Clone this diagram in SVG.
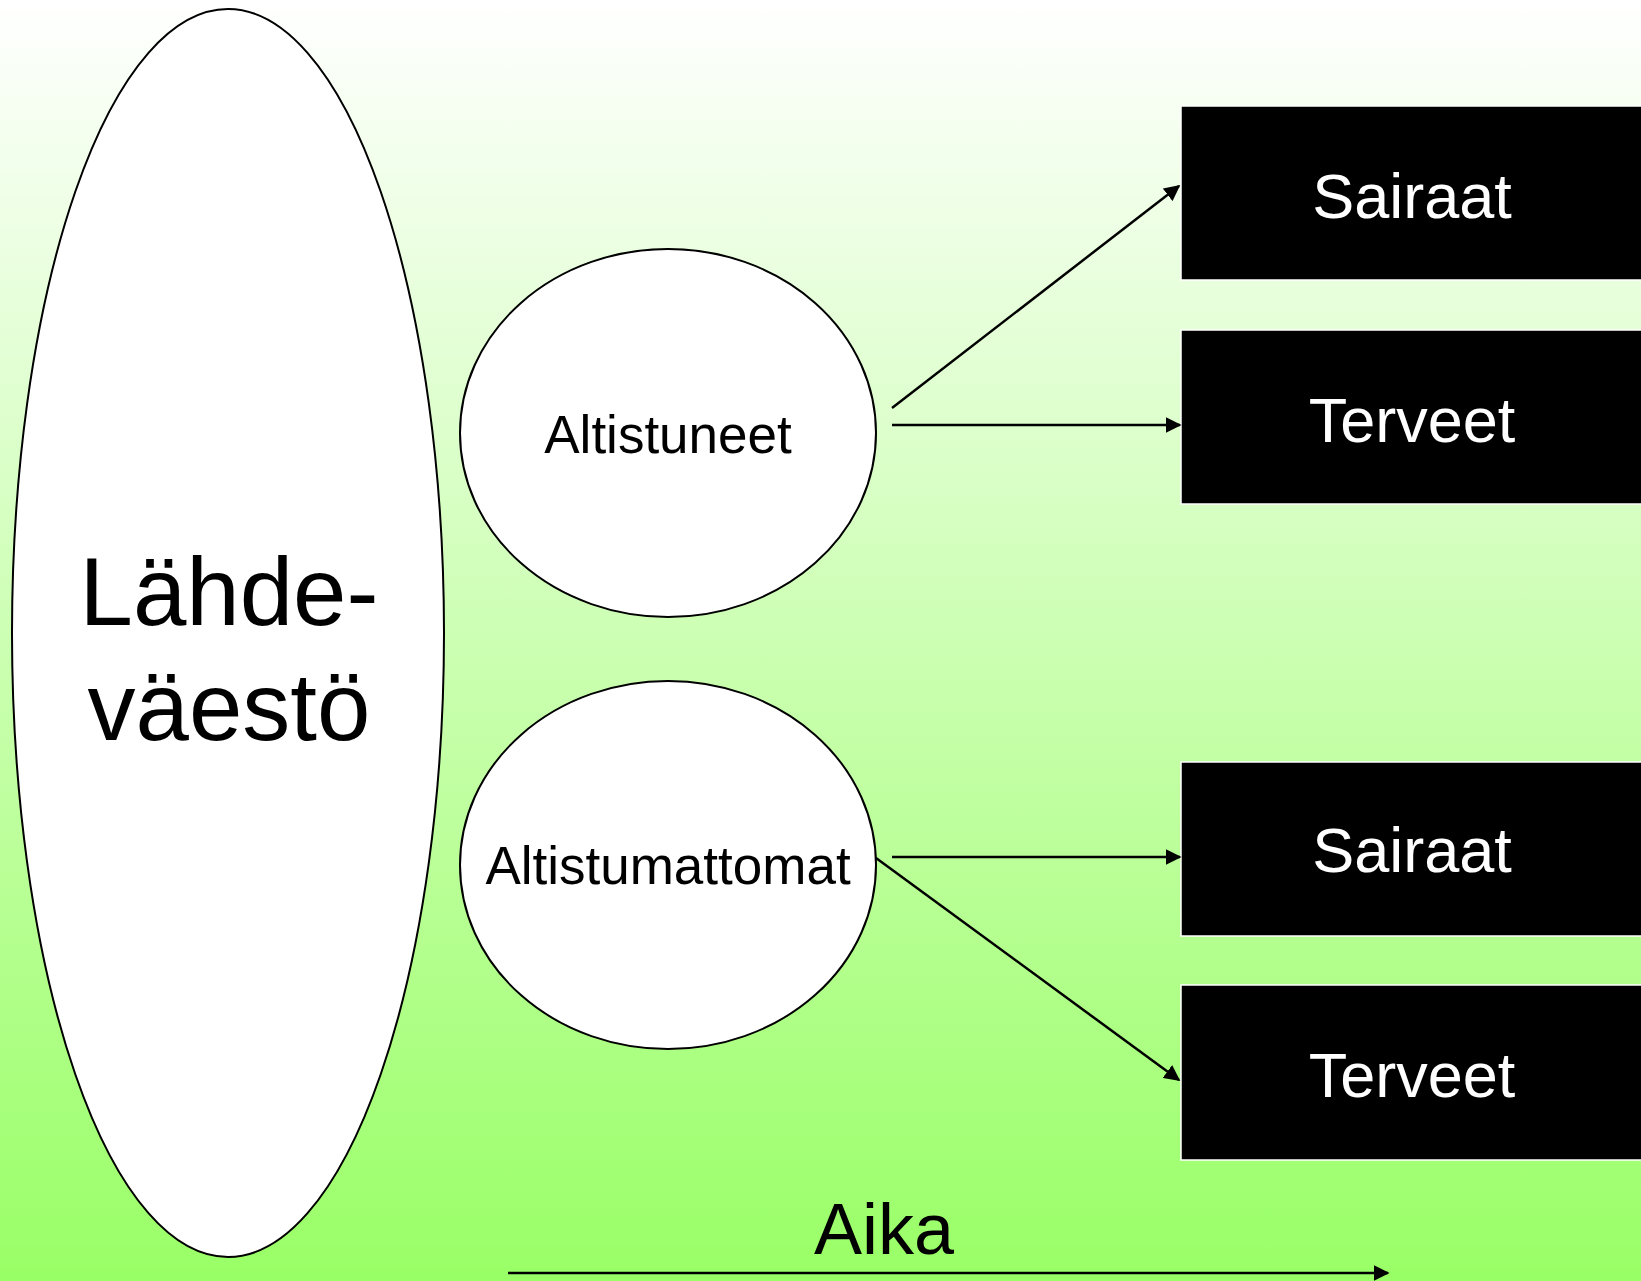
<svg xmlns="http://www.w3.org/2000/svg" width="1641" height="1281" viewBox="0 0 1641 1281">
<defs>
<linearGradient id="bg" x1="0" y1="0" x2="0" y2="1">
<stop offset="0" stop-color="#ffffff"/>
<stop offset="1" stop-color="#99ff66"/>
</linearGradient>
<marker id="arrBig" viewBox="0 0 10 10" refX="9" refY="5" markerWidth="16" markerHeight="16" orient="auto" markerUnits="userSpaceOnUse">
<path d="M0,0 L10,5 L0,10 Z" fill="#000"/>
</marker>
</defs>
<style>
.ell{fill:#ffffff;stroke:#000;stroke-width:2}
.box{fill:#000;stroke:#ffffff;stroke-width:1.5}
.btxt{font-family:"Liberation Sans",Arial,sans-serif;font-size:63px;fill:#ffffff;text-anchor:middle}
.ctxt{font-family:"Liberation Sans",Arial,sans-serif;font-size:53px;fill:#000;text-anchor:middle}
.big{font-family:"Liberation Sans",Arial,sans-serif;font-size:96px;fill:#000;text-anchor:middle}
.conn{stroke:#000;stroke-width:2.5;fill:none}
</style>
<rect x="0" y="0" width="1641" height="1281" fill="url(#bg)"/>
<g id="lahdevaesto">
<ellipse class="ell" cx="228" cy="633" rx="216" ry="624"/>
<text class="big" x="229" y="625">Lähde-</text>
<text class="big" x="229" y="740">väestö</text>
</g>
<g id="altistuneet">
<ellipse class="ell" cx="668" cy="433" rx="208" ry="184"/>
<text class="ctxt" x="668" y="453">Altistuneet</text>
</g>
<g id="altistumattomat">
<ellipse class="ell" cx="668" cy="865" rx="208" ry="184"/>
<text class="ctxt" x="668" y="884">Altistumattomat</text>
</g>
<g id="sairaat1">
<rect class="box" x="1181" y="106" width="470" height="174"/>
<text class="btxt" x="1412" y="218">Sairaat</text>
</g>
<g id="terveet1">
<rect class="box" x="1181" y="330" width="470" height="174"/>
<text class="btxt" x="1412" y="442">Terveet</text>
</g>
<g id="sairaat2">
<rect class="box" x="1181" y="762" width="470" height="174"/>
<text class="btxt" x="1412" y="872">Sairaat</text>
</g>
<g id="terveet2">
<rect class="box" x="1181" y="985" width="470" height="175"/>
<text class="btxt" x="1412" y="1097">Terveet</text>
</g>
<g id="aika">
<text font-family="Liberation Sans, Arial, sans-serif" font-size="72" text-anchor="middle" x="884" y="1254">Aika</text>
</g>
<g id="connectors">
<line class="conn" x1="892" y1="408" x2="1179" y2="186" marker-end="url(#arrBig)"/>
<line class="conn" x1="892" y1="425" x2="1180" y2="425" marker-end="url(#arrBig)"/>
<line class="conn" x1="892" y1="857" x2="1180" y2="857" marker-end="url(#arrBig)"/>
<line class="conn" x1="876" y1="858" x2="1179" y2="1080" marker-end="url(#arrBig)"/>
<line class="conn" x1="508" y1="1273" x2="1388" y2="1273" marker-end="url(#arrBig)"/>
</g>
</svg>
